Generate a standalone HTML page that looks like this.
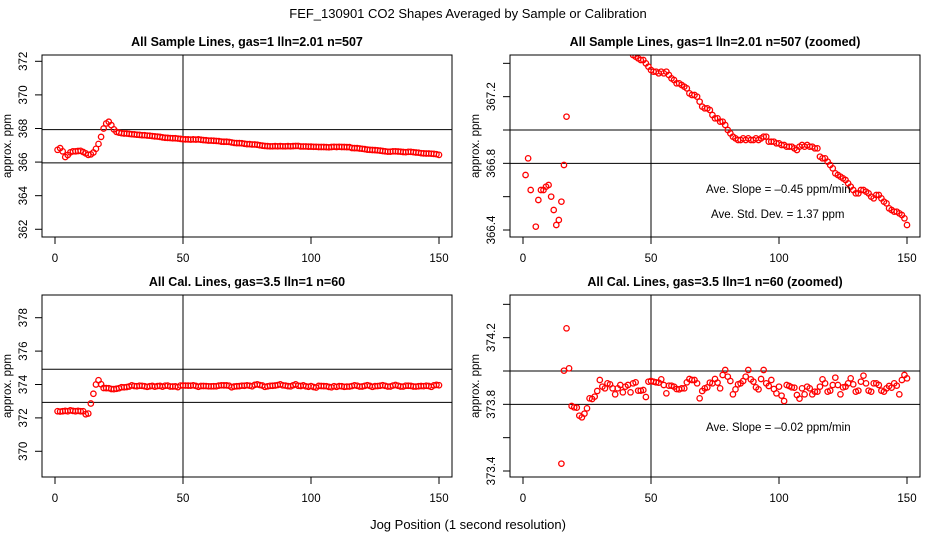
<!DOCTYPE html>
<html><head><meta charset="utf-8"><style>
html,body{margin:0;padding:0;background:#fff;width:936px;height:540px;overflow:hidden}
svg{display:block;font-family:"Liberation Sans",Arial,sans-serif}
</style></head><body>
<svg id="fig" width="936" height="540" viewBox="0 0 936 540">
<text x="468" y="18" text-anchor="middle" font-size="13">FEF_130901  CO2 Shapes Averaged by Sample or Calibration</text>
<text x="468" y="529" text-anchor="middle" font-size="13">Jog Position (1 second resolution)</text>
</svg>
<script>
const sampleValues=[366.73,366.83,366.64,366.3,366.42,366.58,366.64,366.64,366.66,366.67,366.60,366.52,366.43,366.46,366.57,366.79,367.08,367.5,368.0,368.3,368.4,368.2,367.95,367.8,367.75,367.72,367.7,367.7,367.68,367.66,367.65,367.63,367.62,367.6,367.6,367.58,367.57,367.55,367.53,367.52,367.5,367.47,367.45,367.44,367.43,367.42,367.42,367.4,367.38,367.36,367.35,367.35,367.34,367.35,367.34,367.35,367.33,367.31,367.3,367.28,367.28,367.27,367.26,367.25,367.22,367.21,367.21,367.2,367.17,367.14,367.13,367.13,367.12,367.09,367.07,367.07,367.05,367.05,367.03,367.0,366.98,366.96,366.95,366.94,366.94,366.95,366.94,366.95,366.94,366.94,366.95,366.94,366.95,366.96,366.96,366.93,366.93,366.93,366.92,366.92,366.91,366.91,366.9,366.9,366.9,366.89,366.88,366.9,366.91,366.9,366.91,366.9,366.9,366.89,366.89,366.84,366.83,366.83,366.81,366.79,366.77,366.74,366.73,366.72,366.71,366.7,366.68,366.66,366.64,366.62,366.62,366.64,366.64,366.63,366.62,366.6,366.59,366.61,366.61,366.59,366.57,366.56,366.53,366.52,366.51,366.51,366.5,366.49,366.47,366.43];
const calValues=[372.4,372.38,372.4,372.42,372.4,372.45,372.42,372.4,372.42,372.4,372.4,372.22,372.26,372.86,373.444,374.002,374.256,374.016,373.79,373.782,373.78,373.732,373.722,373.744,373.776,373.836,373.832,373.846,373.88,373.946,373.906,373.896,373.926,373.92,373.896,373.86,373.896,373.916,373.872,373.906,373.916,373.872,373.926,373.932,373.882,373.882,373.886,373.844,373.936,373.94,373.936,373.932,373.93,373.95,373.916,373.866,373.912,373.912,373.906,373.892,373.89,373.896,373.896,373.932,373.952,373.946,373.946,373.926,373.836,373.88,373.896,373.902,373.93,373.926,373.952,373.93,373.896,373.976,374.006,373.966,373.94,373.86,373.89,373.92,373.926,373.94,373.966,374.006,373.95,373.936,373.902,373.89,373.952,374.006,373.926,373.91,373.946,373.892,373.866,373.906,373.852,373.82,373.916,373.91,373.902,373.9,373.856,373.834,373.896,373.86,373.906,373.896,373.86,373.876,373.876,373.906,373.95,373.926,373.876,373.882,373.916,373.96,373.916,373.86,373.902,373.906,373.926,373.956,373.92,373.876,373.882,373.936,373.972,373.926,373.882,373.876,373.926,373.926,373.916,373.882,373.876,373.896,373.91,373.9,373.926,373.912,373.86,373.946,373.976,373.956];
const xTicks=[0,50,100,150];
const yTicksSample=[362,364,366,368,370,372];
const yLabelsSample=[362,364,366,368,370,372];
const yTicksSampleZoom=[366.4,366.6,366.8,367.0,367.2,367.4];
const yLabelsSampleZoom=[366.4,366.8,367.2];
const yTicksCal=[370,372,374,376,378];
const yLabelsCal=[370,372,374,376,378];
const yTicksCalZoom=[373.4,373.6,373.8,374.0,374.2,374.4];
const yLabelsCalZoom=[373.4,373.8,374.2];
const hLinesSample=[367.93,365.95];
const hLinesSampleZoom=[367.0,366.8];
const hLinesCal=[374.91,372.93];
const hLinesCalZoom=[374.0,373.8];

const NS='http://www.w3.org/2000/svg';
const svg=document.getElementById('fig');
function mk(tag,attrs,parent){const e=document.createElementNS(NS,tag);for(const k in attrs)e.setAttribute(k,attrs[k]);(parent||svg).appendChild(e);return e;}

const panels=[
 {id:'sample',title:'All Sample Lines, gas=1 lln=2.01 n=507',L:42,R:452,T:55,B:237,x0:55,x1:439,yTop:372.375,yBot:361.54,data:sampleValues,ticks:yTicksSample,labels:yLabelsSample,h:hLinesSample,dec:0},
 {id:'sample-zoomed',title:'All Sample Lines, gas=1 lln=2.01 n=507 (zoomed)',L:510,R:920,T:55,B:237,x0:523,x1:907,yTop:367.45,yBot:366.358,data:sampleValues,ticks:yTicksSampleZoom,labels:yLabelsSampleZoom,h:hLinesSampleZoom,dec:1,notes:[['Ave. Slope =  \u20130.45  ppm/min',706,193],['Ave. Std. Dev. =  1.37  ppm',711,218]]},
 {id:'cal',title:'All Cal. Lines, gas=3.5 lln=1 n=60',L:42,R:452,T:295,B:477,x0:55,x1:439,yTop:379.36,yBot:368.46,data:calValues,ticks:yTicksCal,labels:yLabelsCal,h:hLinesCal,dec:0},
 {id:'cal-zoomed',title:'All Cal. Lines, gas=3.5 lln=1 n=60 (zoomed)',L:510,R:920,T:295,B:477,x0:523,x1:907,yTop:374.456,yBot:373.364,data:calValues,ticks:yTicksCalZoom,labels:yLabelsCalZoom,h:hLinesCalZoom,dec:1,notes:[['Ave. Slope =  \u20130.02  ppm/min',706,431]]}
];

panels.forEach(p=>{
 const g=mk('g',{});
 
 
 const xs=v=>p.x0+(v-0)*(p.x1-p.x0)/150;
 const ys=v=>p.T+(p.yTop-v)*(p.B-p.T)/(p.yTop-p.yBot);
 const t=mk('text',{x:(p.L+p.R)/2,y:p.T-9,'text-anchor':'middle','font-size':'12.5','font-weight':'bold'},g);
 t.textContent=p.title;
 
 
 const cp=mk('clipPath',{id:'clip-'+p.id},g);
 mk('rect',{x:p.L,y:p.T,width:p.R-p.L,height:p.B-p.T},cp);
 p.h.forEach(v=>{const l=mk('line',{x1:p.L,x2:p.R,y1:ys(v),y2:ys(v),stroke:'#000','stroke-width':1},g);
  
  });
 const vl=mk('line',{x1:xs(50),x2:xs(50),y1:p.T,y2:p.B,stroke:'#000','stroke-width':1},g);
 
 
 const pg=mk('g',{'clip-path':'url(#clip-'+p.id+')'},g);
 
 
 p.data.forEach((v,i)=>{const cy=ys(v);if(cy<p.T-4||cy>p.B+4)return;
  const c=mk('circle',{cx:xs(i+1),cy:cy,r:2.7,fill:'none',stroke:'#f00','stroke-width':1.3},pg);
  
  });
 const box=mk('rect',{x:p.L,y:p.T,width:p.R-p.L,height:p.B-p.T,fill:'none',stroke:'#000','stroke-width':1},g);
 
 
 xTicks.forEach(v=>{const x=xs(v);mk('line',{x1:x,x2:x,y1:p.B,y2:p.B+7,stroke:'#000'},g);
  const tt=mk('text',{x:x,y:p.B+25,'text-anchor':'middle','font-size':'11.5'},g);tt.textContent=v;
  
  });
 p.ticks.forEach(v=>{const y=ys(v);mk('line',{x1:p.L-7,x2:p.L,y1:y,y2:y,stroke:'#000'},g);});
 p.labels.forEach(v=>{const y=ys(v);const xx=p.L-15;
  const tt=mk('text',{x:xx,y:y,'text-anchor':'middle','font-size':'11.5',transform:`rotate(-90 ${xx} ${y})`},g);
  tt.textContent=v.toFixed(p.dec);
  
  });
 const yx=p.L-31,yy=(p.T+p.B)/2;
 const yl=mk('text',{x:yx,y:yy,'text-anchor':'middle','font-size':'11.5',transform:`rotate(-90 ${yx} ${yy})`},g);
 yl.textContent='approx. ppm';
 
 
 (p.notes||[]).forEach(n=>{const tt=mk('text',{x:n[1],y:n[2],'font-size':'11.5'},g);tt.textContent=n[0];
  
  });
});
</script>
</body></html>
